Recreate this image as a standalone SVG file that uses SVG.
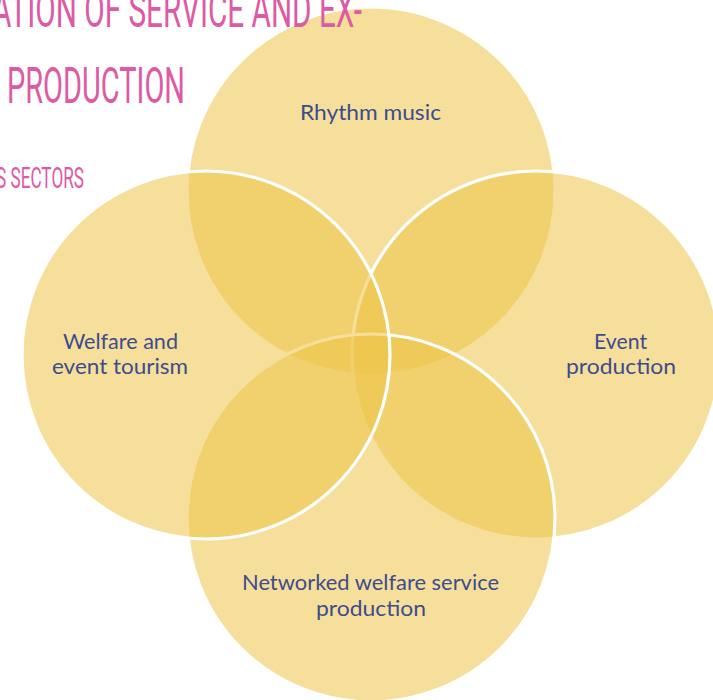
<svg xmlns="http://www.w3.org/2000/svg" width="713" height="700" viewBox="0 0 713 700">
  <style>
    .c { fill: #EDC549; fill-opacity: 0.55; stroke: #FFFFFF; stroke-width: 3.2; }
    .lbl { font-family: Lato, "Open Sans", sans-serif; font-size: 21px; fill: #3E4C8C; text-anchor: middle; }
    .ttl { font-family: Roboto, "Liberation Sans", sans-serif; font-weight: 400; fill: #DD5AA5; }
  </style>
  <rect width="713" height="700" fill="#FFFFFF"/>
  <g id="node-rhythm-music">
    <circle class="c" cx="371" cy="191" r="184"/>
  </g>
  <g id="node-event-production">
    <circle class="c" cx="536" cy="355" r="184"/>
  </g>
  <g id="node-networked-welfare">
    <circle class="c" cx="371" cy="518" r="184"/>
  </g>
  <g id="node-welfare-tourism">
    <circle class="c" cx="206" cy="355" r="184"/>
  </g>
  <g id="labels">
    <text class="lbl" x="370.5" y="120" textLength="141" lengthAdjust="spacingAndGlyphs">Rhythm music</text>
    <text class="lbl" x="120.5" y="349" textLength="115" lengthAdjust="spacingAndGlyphs">Welfare and</text>
    <text class="lbl" x="120" y="374" textLength="136" lengthAdjust="spacingAndGlyphs">event tourism</text>
    <text class="lbl" x="620.5" y="349" textLength="53" lengthAdjust="spacingAndGlyphs">Event</text>
    <text class="lbl" x="621" y="374" textLength="110" lengthAdjust="spacingAndGlyphs">production</text>
    <text class="lbl" x="370.5" y="590" textLength="257" lengthAdjust="spacingAndGlyphs">Networked welfare service</text>
    <text class="lbl" x="371" y="616" textLength="110" lengthAdjust="spacingAndGlyphs">production</text>
  </g>
  <g id="title">
    <text class="ttl" x="-8" y="27" font-size="50" textLength="370" lengthAdjust="spacingAndGlyphs">ATION OF SERVICE AND EX-</text>
    <text class="ttl" x="7" y="103" font-size="50" textLength="178" lengthAdjust="spacingAndGlyphs">PRODUCTION</text>
    <text class="ttl" x="-4" y="188" font-size="29" textLength="88" lengthAdjust="spacingAndGlyphs">S SECTORS</text>
  </g>
</svg>
